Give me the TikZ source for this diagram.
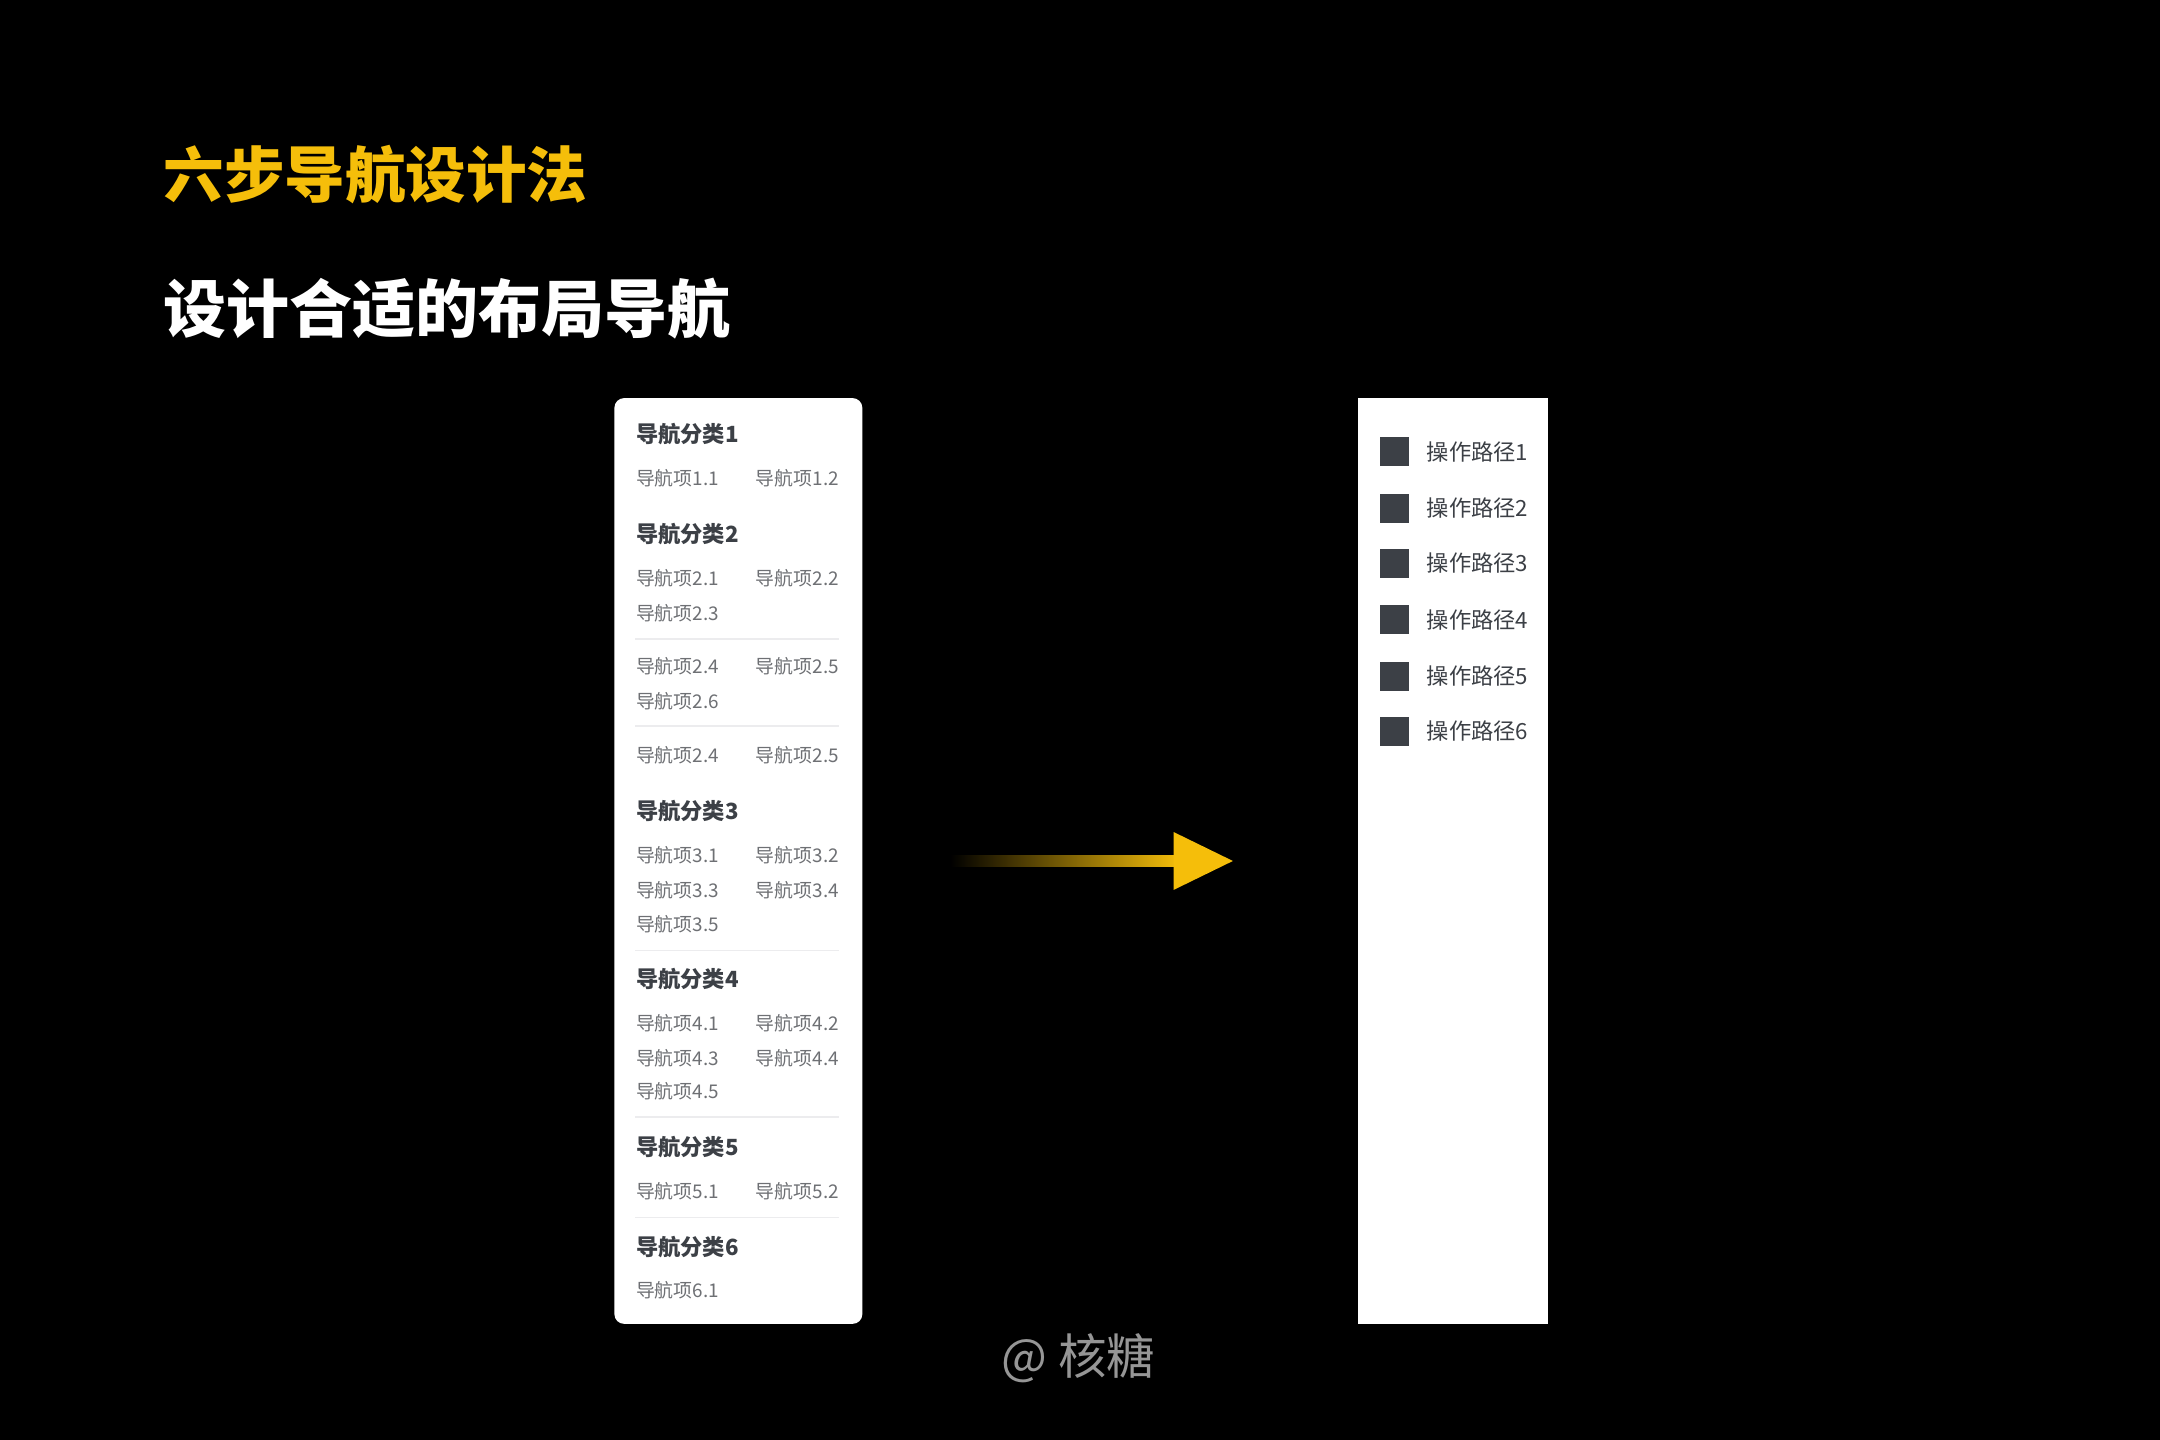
\documentclass[tikz,border=0pt]{standalone}
\usepackage{fontspec}
\setmainfont{Noto Sans CJK SC}
\usetikzlibrary{shapes,arrows}
\definecolor{gold}{RGB}{245, 190, 10}
\definecolor{ink}{RGB}{60, 64, 70}
\definecolor{soft}{RGB}{110, 112, 116}
\definecolor{rule}{RGB}{236, 236, 238}
\definecolor{mark}{RGB}{150, 150, 150}
\tikzset{
  cat/.style={anchor=west, inner sep=0pt, text=ink, font=\fontsize{4.6}{5}\selectfont\bfseries},
  item/.style={anchor=west, inner sep=0pt, text=soft, font=\fontsize{3.9}{4.5}\selectfont},
  path/.style={anchor=west, inner sep=0pt, text=ink, font=\fontsize{4.6}{5}\selectfont},
  sq/.style={fill=ink, minimum size=0.21cm, inner sep=0pt}
}
\begin{document}
\begin{tikzpicture}[x=0.01cm, y=-0.01cm]
        \fill [black] (0,0) rectangle (1568,1045);
        \useasboundingbox (0,0) rectangle (1568,1045);
        % titles
        \node [anchor=west, inner sep=0pt, text=gold, font=\fontsize{12.5}{14}\selectfont\bfseries] (title) at (118,127) {六步导航设计法};
        \node [anchor=west, inner sep=0pt, text=white, font=\fontsize{13}{15}\selectfont\bfseries] (subtitle) at (118,224) {设计合适的布局导航};
        % left panel
        \fill [white, rounded corners=2pt] (446,289) rectangle (626,961);
        \foreach \y in {464,527,690,811,884}
          \draw [rule, line width=0.3pt] (461,\y) -- (609,\y);
        \foreach \n/\y in {1/315,2/388,3/589,4/711,5/833,6/905}
          \node [cat] (cat\n) at (461,\y) {导航分类\n};
        \foreach \t/\x/\y [count=\i] in {1.1/461/347, 1.2/548/347,
            2.1/461/420, 2.2/548/420, 2.3/461/445,
            2.4/461/484, 2.5/548/484, 2.6/461/509,
            2.4/461/548, 2.5/548/548,
            3.1/461/621, 3.2/548/621, 3.3/461/646, 3.4/548/646, 3.5/461/671,
            4.1/461/743, 4.2/548/743, 4.3/461/768, 4.4/548/768, 4.5/461/792,
            5.1/461/865, 5.2/548/865, 6.1/461/937}
          \node [item] (item\i) at (\x,\y) {导航项\t};
        % arrow
        \shade [left color=black, right color=gold] (690,621) rectangle (856,629);
        \fill [gold] (852,604) -- (895,625) -- (852,646) -- cycle;
        % right panel
        \fill [white] (986,289) rectangle (1124,961);
        \foreach \n/\y in {1/328,2/369,3/409,4/450,5/491,6/531} {
          \node [sq] (box\n) at (1012.5,\y) {};
          \node [path] (path\n) at (1035,\y) {操作路径\n};
        }
        \node [text=mark, font=\fontsize{10}{12}\selectfont] (sign) at (783,986) {@ 核糖};
      \end{tikzpicture}
\end{document}
